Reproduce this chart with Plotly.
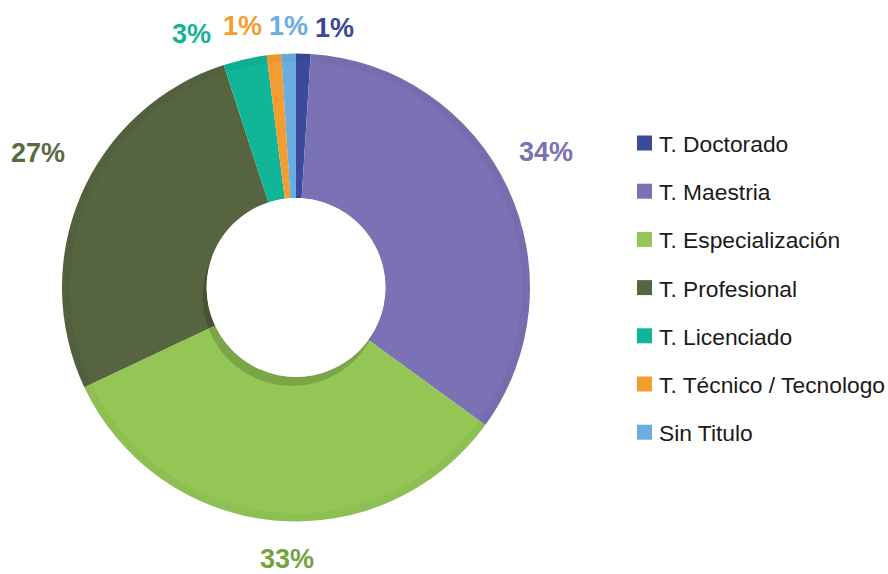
import plotly.graph_objects as go

# Distribution of academic degrees (percent)
categorias = ["T. Doctorado", "T. Maestria", "T. Especialización", "T. Profesional",
              "T. Licenciado", "T. Técnico / Tecnologo", "Sin Titulo"]
porcentajes = [1, 34, 33, 27, 3, 1, 1]

colores = ["#3b4a9b", "#7b72b6", "#93c655", "#566440", "#11b597", "#f39d31", "#6aaedf"]
colores_texto = ["#3a4796", "#7a70b4", "#72a43e", "#5a6b40", "#14b596", "#f39d31", "#6aaedf"]

W, H = 888, 574
cx, cy, R = 296.0, 287.5, 234.0   # donut centre / outer radius in pixels
HOLE = 0.382

fig = go.Figure()
fig.add_trace(go.Pie(
    labels=categorias,
    values=porcentajes,
    sort=False,
    direction="clockwise",
    rotation=0,
    hole=HOLE,
    marker=dict(colors=colores, line=dict(width=0)),
    textinfo="none",
    hoverinfo="label+percent",
    showlegend=False,
    domain=dict(x=[(cx - R) / W, (cx + R) / W], y=[(H - cy - R) / H, (H - cy + R) / H]),
))

def px_x(x):
    return x / W

def px_y(y):
    return 1 - y / H

shapes = []
# faint bevel along the outer rim
shapes.append(dict(type="circle", xref="paper", yref="paper", layer="above",
                   x0=px_x(cx - R + 4), x1=px_x(cx + R - 4), y0=px_y(cy + R - 4), y1=px_y(cy - R + 4),
                   fillcolor="rgba(0,0,0,0)", line=dict(width=8, color="rgba(0,0,0,0.035)")))
# soft inner shadow under the hole
r_in = R * HOLE
sx, sy = cx - 4, cy + 9
shapes.append(dict(type="circle", xref="paper", yref="paper", layer="above",
                   x0=px_x(sx - r_in), x1=px_x(sx + r_in), y0=px_y(sy + r_in), y1=px_y(sy - r_in),
                   fillcolor="rgba(0,0,0,0.16)", line=dict(width=0)))
shapes.append(dict(type="circle", xref="paper", yref="paper", layer="above",
                   x0=px_x(cx - r_in), x1=px_x(cx + r_in), y0=px_y(cy + r_in), y1=px_y(cy - r_in),
                   fillcolor="white", line=dict(width=0)))

# percentage labels
pos_etiquetas = [(334, 28), (546, 152), (287, 559), (38, 153), (191, 34), (243, 26), (288, 26)]
annotations = []
for v, c, (x, y) in zip(porcentajes, colores_texto, pos_etiquetas):
    annotations.append(dict(text=f"<b>{v}%</b>", x=px_x(x), y=px_y(y), xref="paper", yref="paper",
                            showarrow=False, xanchor="center", yanchor="middle",
                            font=dict(family="Liberation Sans, Arial, sans-serif", size=27, color=c)))

# legend
ley_x, ley_y0, ley_dy = 637, 143, 48.2
for i, (nombre, c) in enumerate(zip(categorias, colores)):
    y = ley_y0 + i * ley_dy
    shapes.append(dict(type="rect", xref="paper", yref="paper",
                       x0=px_x(ley_x), x1=px_x(ley_x + 15), y0=px_y(y + 7.5), y1=px_y(y - 7.5),
                       fillcolor=c, line=dict(width=0)))
    annotations.append(dict(text=nombre, x=px_x(ley_x + 20), y=px_y(y + 1), xref="paper", yref="paper",
                            showarrow=False, xanchor="left", yanchor="middle",
                            font=dict(family="Liberation Sans, Arial, sans-serif", size=22.8, color="#1a1a1a")))

fig.update_layout(
    width=W, height=H,
    margin=dict(l=0, r=0, t=0, b=0),
    paper_bgcolor="white",
    plot_bgcolor="white",
    shapes=shapes,
    annotations=annotations,
)

fig.write_html("out.html")
